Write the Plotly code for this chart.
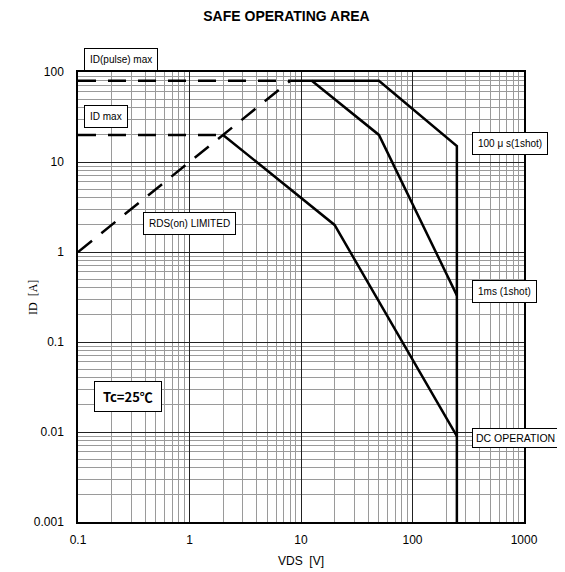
import plotly.graph_objects as go

# ---- data ----
rds_v = [0.1, 8]
rds_i = [1, 80]
idmax_v = [0.1, 2]
idmax_i = [20, 20]
idpulse_v = [0.1, 8]
idpulse_i = [80, 80]
dc_v = [2, 20, 250]
dc_i = [20, 2, 0.009]
ms1_v = [12.5, 50, 250]
ms1_i = [80, 20, 0.33]
us100_v = [8, 50, 250, 250]
us100_i = [80, 80, 15, 0.001]

x_ticks = [0.1, 1, 10, 100, 1000]
x_labels = ["0.1", "1", "10", "100", "1000"]
y_ticks = [0.001, 0.01, 0.1, 1, 10, 100]
y_labels = ["0.001", "0.01", "0.1", "1", "10", "100"]

FONT = "Liberation Sans, Arial, sans-serif"
CJK = "Noto Sans CJK JP, sans-serif"

fig = go.Figure()
dash = "18px,12px"
for xs, ys in [(rds_v, rds_i), (idmax_v, idmax_i), (idpulse_v, idpulse_i)]:
    fig.add_trace(go.Scatter(x=xs, y=ys, mode="lines",
                             line=dict(color="black", width=2.5, dash=dash),
                             showlegend=False, hoverinfo="skip"))
for xs, ys in [(dc_v, dc_i), (ms1_v, ms1_i), (us100_v, us100_i)]:
    fig.add_trace(go.Scatter(x=xs, y=ys, mode="lines",
                             line=dict(color="black", width=2.5),
                             showlegend=False, hoverinfo="skip"))

axis_common = dict(
    type="log", showline=True, linecolor="black", linewidth=1.5, mirror=True,
    showgrid=True, gridcolor="#222222", gridwidth=1.2,
    ticks="", zeroline=False, automargin=False,
    tickfont=dict(family=FONT, size=12, color="black"),
    minor=dict(dtick="D1", showgrid=True, gridcolor="#9a9a9a", gridwidth=1, ticks=""),
)

fig.update_xaxes(range=[-1, 3], tickvals=x_ticks, ticktext=x_labels, ticklabelstandoff=6,
                 title=dict(text="VDS  [V]", font=dict(family=FONT, size=12, color="black"), standoff=10),
                 **axis_common)
fig.update_yaxes(range=[-3, 2], tickvals=y_ticks, ticktext=y_labels, ticklabelstandoff=10,
                 **axis_common)

# y-axis title as rotated annotation
fig.add_annotation(x=-0.101, y=0.5, xref="paper", yref="paper", text="ID  [A]", textangle=-90,
                   showarrow=False, xanchor="center", yanchor="middle",
                   font=dict(family="Liberation Serif, serif", size=12, color="black"))

def box(text, lx, ly, yref="y", bold=False, size=10, pad=5, family=FONT):
    fig.add_annotation(x=lx, y=ly, xref="x", yref=yref, text=f"<b>{text}</b>" if bold else text,
                       showarrow=False, xanchor="left", yanchor="middle",
                       font=dict(family=family, size=size, color="black"),
                       bgcolor="white", bordercolor="black", borderwidth=1, borderpad=pad)

box("ID(pulse) max", -0.944, 1.028, yref="paper")
box("ID max", -0.944, 1.51)
box("RDS(on) LIMITED", -0.415, 0.32)
box("100 μ s(1shot)", 2.534, 1.205, pad=5)
box("1ms (1shot)", 2.534, -0.442)
box("DC OPERATION", 2.534, -2.066, size=10.5, pad=3)
box("&nbsp;Tc=25℃&nbsp;", -0.854, -1.604, bold=True, size=13, pad=5, family=CJK)

fig.update_layout(
    width=557, height=564,
    margin=dict(l=70, r=41, t=64, b=50),
    paper_bgcolor="white", plot_bgcolor="white",
    title=dict(text="<b>SAFE OPERATING AREA</b>", x=0.5, xanchor="center", y=0.986, yanchor="middle",
               font=dict(family=FONT, size=14, color="black")),
)

fig.write_html("out.html")
